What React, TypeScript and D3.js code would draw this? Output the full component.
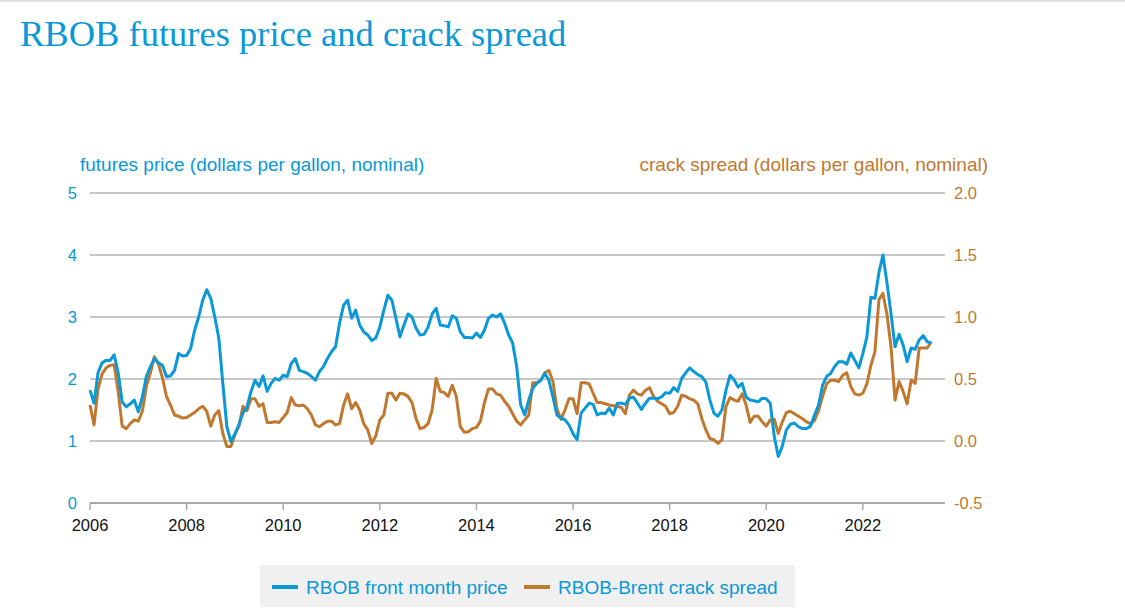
import React from "react";
import * as d3 from "d3";

const startYear = 2006;
const rbobPrice: number[] = [
  1.82, 1.61, 2.10, 2.26, 2.30, 2.30, 2.39, 2.10, 1.63, 1.55, 1.60, 1.66,
  1.47, 1.71, 2.04, 2.20, 2.33, 2.26, 2.22, 2.04, 2.05, 2.14, 2.41, 2.37,
  2.38, 2.49, 2.79, 3.00, 3.27, 3.44, 3.30, 3.00, 2.66, 1.93, 1.23, 0.99,
  1.12, 1.26, 1.45, 1.55, 1.80, 1.98, 1.88, 2.05, 1.80, 1.93, 2.01, 1.98,
  2.06, 2.04, 2.25, 2.33, 2.14, 2.12, 2.09, 2.04, 1.98, 2.12, 2.20, 2.33,
  2.44, 2.52, 2.90, 3.19, 3.27, 2.98, 3.11, 2.87, 2.76, 2.71, 2.62, 2.66,
  2.84, 3.11, 3.35, 3.27, 2.98, 2.68, 2.87, 3.05, 3.00, 2.82, 2.71, 2.72,
  2.84, 3.05, 3.14, 2.87, 2.86, 2.84, 3.02, 2.98, 2.76, 2.67, 2.67, 2.66,
  2.74, 2.67, 2.79, 2.98, 3.03, 3.00, 3.05, 2.90, 2.71, 2.58, 2.20, 1.58,
  1.42, 1.66, 1.85, 1.93, 1.98, 2.09, 1.98, 1.71, 1.42, 1.37, 1.34, 1.26,
  1.12, 1.02, 1.45, 1.53, 1.61, 1.59, 1.42, 1.45, 1.44, 1.53, 1.42, 1.61,
  1.61, 1.59, 1.69, 1.71, 1.61, 1.51, 1.61, 1.69, 1.69, 1.68, 1.71, 1.78,
  1.77, 1.86, 1.80, 2.01, 2.10, 2.18, 2.12, 2.07, 2.04, 1.95, 1.66, 1.45,
  1.40, 1.50, 1.82, 2.06, 1.99, 1.87, 1.93, 1.71, 1.66, 1.65, 1.63, 1.69,
  1.68, 1.61, 1.07, 0.75, 0.92, 1.18, 1.27, 1.29, 1.23, 1.20, 1.20, 1.24,
  1.42, 1.58, 1.90, 2.04, 2.09, 2.20, 2.28, 2.28, 2.24, 2.42, 2.30, 2.18,
  2.41, 2.68, 3.32, 3.30, 3.72, 4.00, 3.55, 3.05, 2.52, 2.72, 2.55, 2.28,
  2.50, 2.48, 2.63, 2.70, 2.60, 2.58
];
const crackSpread: number[] = [
  0.29, 0.13, 0.42, 0.54, 0.59, 0.61, 0.615, 0.40, 0.12, 0.10, 0.14, 0.17,
  0.16, 0.24, 0.44, 0.55, 0.68, 0.62, 0.51, 0.36, 0.29, 0.21, 0.20, 0.185,
  0.19, 0.21, 0.23, 0.26, 0.28, 0.24, 0.12, 0.21, 0.245, 0.06, -0.045, -0.045,
  0.05, 0.12, 0.28, 0.245, 0.34, 0.34, 0.28, 0.30, 0.15, 0.15, 0.155, 0.15,
  0.19, 0.23, 0.35, 0.29, 0.285, 0.29, 0.26, 0.21, 0.13, 0.115, 0.14, 0.16,
  0.16, 0.13, 0.14, 0.29, 0.38, 0.26, 0.31, 0.25, 0.14, 0.09, -0.02, 0.04,
  0.17, 0.21, 0.385, 0.385, 0.33, 0.385, 0.38, 0.36, 0.31, 0.18, 0.10, 0.11,
  0.14, 0.25, 0.505, 0.40, 0.39, 0.36, 0.45, 0.36, 0.115, 0.07, 0.075, 0.10,
  0.11, 0.16, 0.31, 0.42, 0.42, 0.38, 0.37, 0.32, 0.28, 0.22, 0.16, 0.13,
  0.17, 0.21, 0.47, 0.47, 0.49, 0.55, 0.57, 0.48, 0.26, 0.175, 0.25, 0.34,
  0.34, 0.22, 0.47, 0.47, 0.46, 0.385, 0.31, 0.31, 0.30, 0.29, 0.285, 0.28,
  0.27, 0.22, 0.37, 0.41, 0.38, 0.37, 0.41, 0.43, 0.36, 0.32, 0.30, 0.28,
  0.22, 0.23, 0.28, 0.37, 0.36, 0.34, 0.33, 0.30, 0.18, 0.09, 0.02, 0.01,
  -0.02, 0.01, 0.28, 0.35, 0.33, 0.32, 0.38, 0.29, 0.15, 0.20, 0.20, 0.155,
  0.12, 0.17, 0.175, 0.06, 0.155, 0.23, 0.24, 0.22, 0.20, 0.18, 0.155, 0.14,
  0.165, 0.245, 0.36, 0.46, 0.49, 0.49, 0.48, 0.53, 0.55, 0.44, 0.38, 0.37,
  0.385, 0.46, 0.61, 0.72, 1.14, 1.19, 1.02, 0.76, 0.33, 0.48, 0.40, 0.30,
  0.49, 0.465, 0.75, 0.75, 0.75, 0.80
];
const yearTicks: number[] = [2006, 2008, 2010, 2012, 2014, 2016, 2018, 2020, 2022];
const leftTicks: number[] = [0, 1, 2, 3, 4, 5];
const rightTicks: number[] = [-0.5, 0, 0.5, 1.0, 1.5, 2.0];

const BLUE = "#0a98d6";
const ORANGE = "#c0782e";
const SANS = "'Liberation Sans', Arial, sans-serif";

export default function App() {
  const W = 1125, H = 615;
  const x = d3.scaleLinear().domain([2006, 2023.5]).range([90, 935.3]);
  const yL = d3.scaleLinear().domain([0, 5]).range([503, 193]);
  const yR = d3.scaleLinear().domain([-0.5, 2]).range([503, 193]);
  const t = (i: number) => startYear + i / 12;

  const lineBlue = d3.line<number>().x((_, i) => x(t(i))).y((d) => yL(d));
  const lineOrange = d3.line<number>().x((_, i) => x(t(i))).y((d) => yR(d));

  return (
    <svg width={W} height={H} style={{ position: "absolute", left: 0, top: 0, background: "#fff" }}>
      <line x1={0} x2={W} y1={1} y2={1} stroke="#e4e4e4" strokeWidth={2} />
      <text x={20} y={46} fontFamily="'Liberation Serif', 'Times New Roman', serif" fontSize={36.5} fill={BLUE}>
        RBOB futures price and crack spread
      </text>
      <text x={80} y={171} fontFamily={SANS} fontSize={19} fill={BLUE}>
        futures price (dollars per gallon, nominal)
      </text>
      <text x={988} y={171} textAnchor="end" fontFamily={SANS} fontSize={19} fill={ORANGE}>
        crack spread (dollars per gallon, nominal)
      </text>
      {leftTicks.map((v) => (
        <g key={"g" + v}>
          <line x1={90} x2={945} y1={yL(v)} y2={yL(v)} stroke={v === 0 ? "#a8a8a8" : "#c8c8c8"} strokeWidth={2} />
          <text x={77} y={yL(v) + 6} textAnchor="end" fontFamily={SANS} fontSize={16.5} fill={BLUE}>
            {v}
          </text>
        </g>
      ))}
      {rightTicks.map((v) => (
        <text key={"r" + v} x={954} y={yR(v) + 6} fontFamily={SANS} fontSize={16.5} fill={ORANGE}>
          {v.toFixed(1)}
        </text>
      ))}
      {yearTicks.map((yr) => (
        <g key={"x" + yr}>
          <line x1={x(yr)} x2={x(yr)} y1={503} y2={510} stroke="#a8a8a8" strokeWidth={1.5} />
          <text x={x(yr)} y={531} textAnchor="middle" fontFamily={SANS} fontSize={16.5} fill="#111">
            {yr}
          </text>
        </g>
      ))}
      <path d={lineOrange(crackSpread) || ""} fill="none" stroke={ORANGE} strokeWidth={3} strokeLinejoin="round" />
      <path d={lineBlue(rbobPrice) || ""} fill="none" stroke={BLUE} strokeWidth={3} strokeLinejoin="round" />
      <rect x={260} y={565} width={535} height={42} fill="#f0f0f0" />
      <line x1={272} x2={298} y1={587} y2={587} stroke={BLUE} strokeWidth={4} />
      <text x={306} y={594} fontFamily={SANS} fontSize={19} fill={BLUE}>
        RBOB front month price
      </text>
      <line x1={524} x2={550} y1={587} y2={587} stroke={ORANGE} strokeWidth={4} />
      <text x={558} y={594} fontFamily={SANS} fontSize={19} fill={BLUE}>
        RBOB-Brent crack spread
      </text>
    </svg>
  );
}
